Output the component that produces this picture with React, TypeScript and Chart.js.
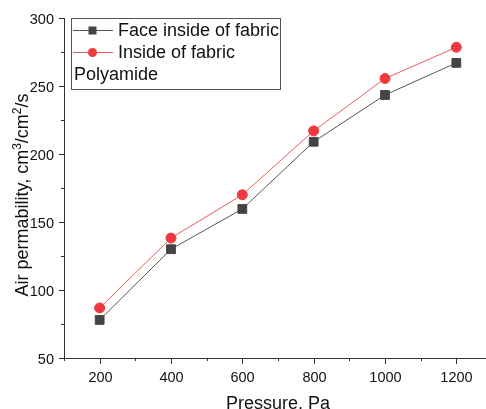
import React, { useEffect, useRef } from "react";
import { Chart, registerables } from "chart.js";

Chart.register(...registerables);

const pressures = [200, 400, 600, 800, 1000, 1200];
const faceInside = [78, 130, 159.6, 209, 243.4, 267];
const insideFabric = [86.8, 138.2, 170, 217, 255.5, 278.5];
const yMajorTicks = [50, 100, 150, 200, 250, 300];
const xMajorTicks = [200, 400, 600, 800, 1000, 1200];
const seriesNames = ["Face inside of fabric", "Inside of fabric"];
const noteText = "Polyamide";
const xTitle = "Pressure, Pa";
// y title pieces: [text, isSuperscript]
const yTitleParts: [string, boolean][] = [
  ["Air permability, cm", false],
  ["3", true],
  ["/cm", false],
  ["2", true],
  ["/s", false],
];

const FONT = "'Liberation Sans', Arial, sans-serif";

const axesPlugin = {
  id: "customAxes",
  afterDraw(chart: any) {
    const ctx = chart.ctx as CanvasRenderingContext2D;
    const xs = chart.scales.x;
    const ys = chart.scales.y;
    const area = chart.chartArea;
    ctx.save();
    ctx.strokeStyle = "#333";
    ctx.lineWidth = 1;
    // axis lines
    ctx.beginPath();
    ctx.moveTo(area.left + 0.5, area.top);
    ctx.lineTo(area.left + 0.5, area.bottom + 0.5);
    ctx.lineTo(area.right, area.bottom + 0.5);
    ctx.stroke();
    // y ticks
    ctx.fillStyle = "#111";
    ctx.font = `14.5px ${FONT}`;
    ctx.textAlign = "right";
    ctx.textBaseline = "middle";
    for (let v = 50; v <= 300; v += 25) {
      const y = Math.round(ys.getPixelForValue(v)) + 0.5;
      const major = yMajorTicks.includes(v);
      ctx.beginPath();
      ctx.moveTo(area.left - (major ? 5 : 3), y);
      ctx.lineTo(area.left, y);
      ctx.stroke();
      if (major) ctx.fillText(String(v), area.left - 10, y + 1);
    }
    // x ticks
    ctx.textAlign = "center";
    ctx.textBaseline = "alphabetic";
    for (let v = 100; v <= 1300; v += 100) {
      const x = Math.round(xs.getPixelForValue(v)) + 0.5;
      const major = xMajorTicks.includes(v);
      ctx.beginPath();
      ctx.moveTo(x, area.bottom);
      ctx.lineTo(x, area.bottom + (major ? 6 : 3));
      ctx.stroke();
      if (major) ctx.fillText(String(v), x, area.bottom + 24);
    }
    // x title
    ctx.font = `18px ${FONT}`;
    ctx.textAlign = "center";
    ctx.textBaseline = "alphabetic";
    ctx.fillText(xTitle, (xs.getPixelForValue(200) + xs.getPixelForValue(1200)) / 2, 409);

    // y title with superscripts
    ctx.save();
    ctx.translate(28, (area.top + area.bottom) / 2 + 7);
    ctx.rotate(-Math.PI / 2);
    ctx.textAlign = "left";
    const normal = `18px ${FONT}`;
    const sup = `12px ${FONT}`;
    let total = 0;
    yTitleParts.forEach(([t, s]) => {
      ctx.font = s ? sup : normal;
      total += ctx.measureText(t).width;
    });
    let cx = -total / 2;
    yTitleParts.forEach(([t, s]) => {
      ctx.font = s ? sup : normal;
      ctx.fillText(t, cx, s ? -7 : 0);
      cx += ctx.measureText(t).width;
    });
    ctx.restore();

    // legend
    const lx = 71.5, ly = 18.5, lw = 209, lh = 71;
    ctx.strokeStyle = "#555";
    ctx.strokeRect(lx, ly, lw, lh);
    ctx.font = `18px ${FONT}`;
    ctx.textAlign = "left";
    ctx.textBaseline = "middle";
    const rows = [30.5, 52.5];
    chart.data.datasets.forEach((ds: any, i: number) => {
      const y = rows[i];
      ctx.strokeStyle = ds.borderColor;
      ctx.beginPath();
      ctx.moveTo(73, y);
      ctx.lineTo(113, y);
      ctx.stroke();
      ctx.fillStyle = ds.pointBackgroundColor;
      if (ds.pointStyle === "rect") {
        ctx.fillRect(88.5, y - 4, 8, 8);
      } else {
        ctx.beginPath();
        ctx.arc(92.5, y, 4.5, 0, Math.PI * 2);
        ctx.fill();
      }
      ctx.fillStyle = "#111";
      ctx.fillText(ds.label, 118, y + 1);
    });
    ctx.fillStyle = "#111";
    ctx.fillText(noteText, 74, 75);
    ctx.restore();
  },
};

export default function App() {
  const ref = useRef<HTMLCanvasElement | null>(null);
  useEffect(() => {
    if (!ref.current) return;
    const chart = new Chart(ref.current, {
      type: "line",
      data: {
        datasets: [
          {
            label: seriesNames[0],
            data: pressures.map((p, i) => ({ x: p, y: faceInside[i] })),
            borderColor: "#555555",
            backgroundColor: "#444444",
            pointBackgroundColor: "#444444",
            pointBorderColor: "#444444",
            pointStyle: "rect",
            pointRadius: 6.2,
            borderWidth: 1,
            tension: 0,
          },
          {
            label: seriesNames[1],
            data: pressures.map((p, i) => ({ x: p, y: insideFabric[i] })),
            borderColor: "#f25a5a",
            backgroundColor: "#ee3a3e",
            pointBackgroundColor: "#ee3a3e",
            pointBorderColor: "#ee3a3e",
            pointStyle: "circle",
            pointRadius: 5,
            borderWidth: 1,
            tension: 0,
          },
        ],
      },
      options: {
        animation: false,
        responsive: false,
        maintainAspectRatio: false,
        layout: { padding: { left: 64, top: 18, right: 8, bottom: 51 } },
        plugins: { legend: { display: false }, tooltip: { enabled: false } },
        scales: {
          x: { type: "linear", min: 100, max: 1300, display: false },
          y: { type: "linear", min: 50, max: 300, display: false },
        },
        elements: { point: { borderWidth: 0 } },
      },
      plugins: [axesPlugin],
    });
    return () => chart.destroy();
  }, []);
  return (
    <div style={{ position: "fixed", left: 0, top: 0, width: 486, height: 409, overflow: "hidden", background: "#fff" }}>
      <canvas ref={ref} width={500} height={409} style={{ width: 500, height: 409, display: "block" }} />
    </div>
  );
}
